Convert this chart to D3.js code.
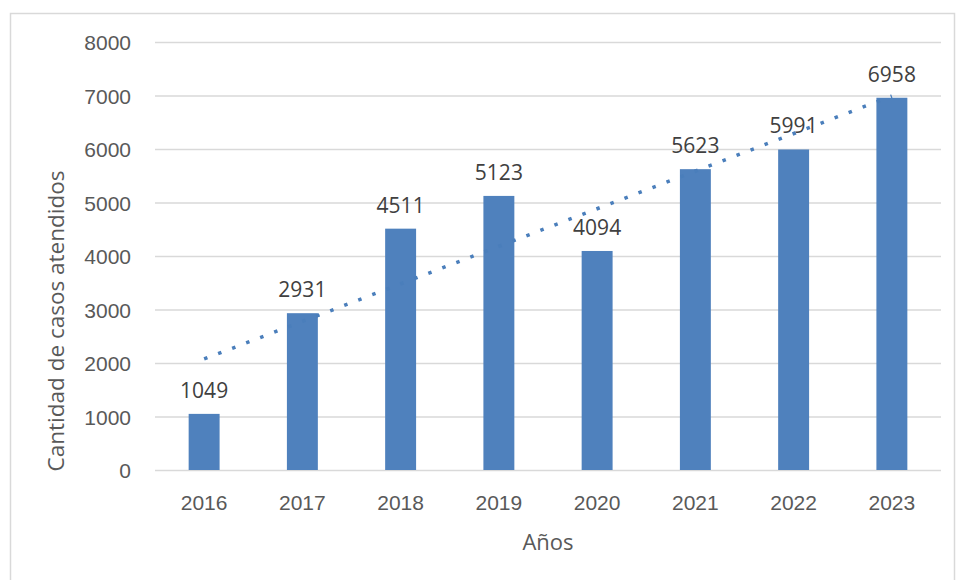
<!DOCTYPE html>
<html>
<head>
<meta charset="utf-8">
<script src="https://cdn.jsdelivr.net/npm/d3@7"></script>
<style>
  html, body { margin: 0; padding: 0; background: #fff; }
  svg { display: block; font-family: "Open Sans", "Noto Sans", sans-serif; }
</style>
</head>
<body>
<svg id="chart" width="956" height="580"></svg>
<script>
const years = ["2016", "2017", "2018", "2019", "2020", "2021", "2022", "2023"];
const cases = [1049, 2931, 4511, 5123, 4094, 5623, 5991, 6958];
const yTicks = [0, 1000, 2000, 3000, 4000, 5000, 6000, 7000, 8000];
// trend line ends (first and last year)
const trendEnds = [2075, 6990];

const svg = d3.select("#chart");
const width = +svg.attr("width");
const height = +svg.attr("height");

const margin = { top: 42, right: 15, bottom: 110, left: 155 };
const innerWidth = width - margin.left - margin.right;
const innerHeight = height - margin.top - margin.bottom;

// outer chart frame (bottom edge runs past the picture)
svg
  .append("path")
  .attr("d", `M 10.5 ${height} V 13.5 H 954.5 V ${height}`)
  .attr("fill", "none")
  .attr("stroke", "#d9d9d9")
  .attr("stroke-width", 1.5);

const root = svg
  .append("g")
  .attr("transform", `translate(${margin.left}, ${margin.top})`);

const x = d3
  .scaleBand()
  .domain(years)
  .range([0, innerWidth])
  .paddingInner(0.685)
  .paddingOuter(0.3425);

const y = d3.scaleLinear().domain([0, 8000]).range([innerHeight, 0]);

const yAxis = root
  .append("g")
  .call(
    d3.axisLeft(y)
      .tickValues(yTicks)
      .tickFormat(d3.format("d"))
      .tickSize(-innerWidth)
      .tickPadding(24)
  )
  .call(g => g.select(".domain").remove())
  .call(g => g.selectAll("line").attr("stroke", "#d9d9d9").attr("stroke-width", 1.4));

yAxis
  .selectAll("text")
  .attr("fill", "#595959")
  .attr("font-size", 21)
  .attr("dy", "0.36em");

const xAxis = root
  .append("g")
  .attr("transform", `translate(0, ${innerHeight})`)
  .call(d3.axisBottom(x).tickSize(0).tickPadding(25))
  .call(g => g.select(".domain").remove());

xAxis.selectAll("text").attr("fill", "#595959").attr("font-size", 21);

root
  .append("g")
  .selectAll("rect")
  .data(cases)
  .join("rect")
  .attr("x", (d, i) => x(years[i]))
  .attr("y", d => y(d))
  .attr("width", x.bandwidth())
  .attr("height", d => innerHeight - y(d))
  .attr("fill", "#4f81bd");

root
  .append("g")
  .selectAll("text")
  .data(cases)
  .join("text")
  .attr("x", (d, i) => x(years[i]) + x.bandwidth() / 2)
  .attr("y", d => y(d) - 16)
  .attr("text-anchor", "middle")
  .attr("fill", "#404040")
  .attr("font-size", 21)
  .text(d => d);

const centre = d => x(d) + x.bandwidth() / 2;

root
  .append("line")
  .attr("x1", centre(years[0]))
  .attr("y1", y(trendEnds[0]))
  .attr("x2", centre(years[years.length - 1]))
  .attr("y2", y(trendEnds[1]))
  .attr("stroke", "#4a7ebb")
  .attr("stroke-width", 3.5)
  .attr("stroke-dasharray", "3.5 11.5");

svg
  .append("text")
  .attr("x", margin.left + innerWidth / 2)
  .attr("y", 550)
  .attr("text-anchor", "middle")
  .attr("fill", "#595959")
  .attr("font-size", 22)
  .text("Años");

svg
  .append("text")
  .attr("transform", "rotate(-90)")
  .attr("x", -321)
  .attr("y", 64)
  .attr("text-anchor", "middle")
  .attr("fill", "#595959")
  .attr("font-size", 22.5)
  .text("Cantidad de casos atendidos");
</script>
</body>
</html>
